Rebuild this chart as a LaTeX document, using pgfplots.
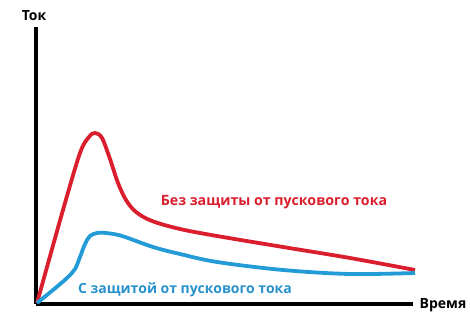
\documentclass[border=0pt]{standalone}
\usepackage{fontspec}
\setmainfont{Open Sans}
\usepackage{pgfplots}
\pgfplotsset{compat=1.18}
\definecolor{cred}{RGB}{218,30,45}
\definecolor{cblue}{RGB}{35,155,215}
\definecolor{tblue}{RGB}{40,145,205}
\begin{document}
\begin{tikzpicture}[x=1pt,y=1pt]
\begin{axis}[
  scale only axis, width=377pt, height=277pt,
  xmin=36, xmax=413, ymin=0, ymax=277,
  axis lines=left,
  axis line style={line width=4.2pt,-},
  xtick=\empty, ytick=\empty,
  clip=false,
]
\path[use as bounding box] (axis cs:0,-11) rectangle (axis cs:470,304);
\addplot[cred, line width=3.8pt, smooth, tension=0.55] coordinates {
(37,1) (63,94) (80,151) (89,167) (95,171) (102,166) (110,145) (118,121) (126,104) (136,92) (152,83) (180,75) (217,68) (283,57) (350,46) (415,34)
};
\addplot[cblue, line width=3.8pt, smooth, tension=0.55] coordinates {
(37,1) (53,14) (67,26) (75,35) (80,47) (85,60) (90,68) (97,71) (106,71) (122,68) (153,57) (180,50) (217,42) (283,34) (350,30) (415,31)
};
\node[cred, font=\bfseries\fontsize{14.2}{16}\selectfont] at (axis cs:274,102) {Без защиты от пускового тока};
\node[tblue, font=\bfseries\fontsize{14}{16}\selectfont] at (axis cs:185,14) {С защитой от пускового тока};
\node[black, font=\bfseries\fontsize{14}{16}\selectfont] at (axis cs:34,288) {Ток};
\node[black, font=\bfseries\fontsize{14}{16}\selectfont] at (axis cs:443,-1) {Время};
\end{axis}
\end{tikzpicture}
\end{document}
